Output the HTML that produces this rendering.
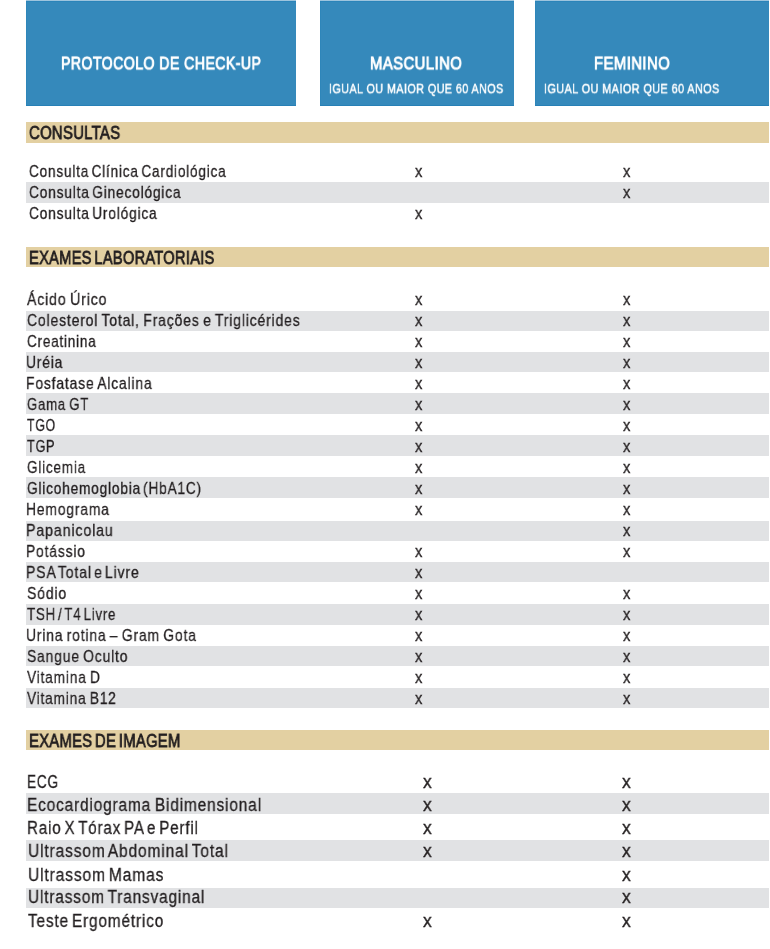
<!DOCTYPE html>
<html><head><meta charset="utf-8"><title>Protocolo de Check-up</title>
<style>
html,body{margin:0;padding:0;background:#fff}
#p{position:relative;width:770px;height:949px;overflow:hidden;background:#fff}
.r{position:absolute}
.bx{background:#3589bb;box-shadow:inset 0 1px 0 #9ec4dd,inset 0 2px 0 #2b84b9,inset 0 -1px 0 #2780b6,inset 1px 0 0 #2e86ba}
.t{position:absolute;white-space:nowrap;line-height:1;font-family:"Liberation Sans",Arial,sans-serif;color:#231f20;transform-origin:0 0;will-change:transform}
</style></head><body><div id="p">
<div class="r bx" style="left:26px;top:0;width:270px;height:106px"></div>
<div class="r bx" style="left:320px;top:0;width:194px;height:106px"></div>
<div class="r bx" style="left:535px;top:0;width:234px;height:106px"></div>
<div class="t" style="left:60.91px;top:54px;font-size:19px;color:#fff;transform:scale(0.7426,0.952);-webkit-text-stroke:1.0px #fff;letter-spacing:0.6px">PROTOCOLO DE CHECK-UP</div>
<div class="t" style="left:370.32px;top:54px;font-size:19px;color:#fff;transform:scale(0.7795,0.952);-webkit-text-stroke:1.0px #fff;letter-spacing:0.6px">MASCULINO</div>
<div class="t" style="left:329.45px;top:81px;font-size:15px;color:#fff;transform:scale(0.7176,0.940);-webkit-text-stroke:0.5px #fff;letter-spacing:0.6px">IGUAL OU MAIOR QUE 60 ANOS</div>
<div class="t" style="left:593.52px;top:54px;font-size:19px;color:#fff;transform:scale(0.7802,0.952);-webkit-text-stroke:1.0px #fff;letter-spacing:0.6px">FEMININO</div>
<div class="t" style="left:544.25px;top:81px;font-size:15px;color:#fff;transform:scale(0.7218,0.940);-webkit-text-stroke:0.5px #fff;letter-spacing:0.6px">IGUAL OU MAIOR QUE 60 ANOS</div>
<div class="r" style="left:26px;top:122px;width:743px;height:21px;background:#e3d0a2"></div>
<div class="t" style="left:28.61px;top:124px;font-size:18.5px;transform:scaleX(0.8077);-webkit-text-stroke:0.8px #231f20;letter-spacing:0.3px">CONSULTAS</div>
<div class="r" style="left:26px;top:247px;width:743px;height:20px;background:#e3d0a2"></div>
<div class="t" style="left:28.85px;top:249px;font-size:18.5px;transform:scaleX(0.7941);-webkit-text-stroke:0.8px #231f20;letter-spacing:0.3px;word-spacing:-2px">EXAMES LABORATORIAIS</div>
<div class="r" style="left:26px;top:730px;width:743px;height:20px;background:#e3d0a2"></div>
<div class="t" style="left:29.08px;top:732px;font-size:18.5px;transform:scaleX(0.8020);-webkit-text-stroke:0.8px #231f20;letter-spacing:0.3px;word-spacing:-2px">EXAMES DE IMAGEM</div>
<div class="r" style="left:26px;top:182px;width:743px;height:21px;background:#e1e2e4"></div>
<div class="t" style="left:29.32px;top:163px;font-size:17px;transform:scaleX(0.7998);-webkit-text-stroke:0.3px #231f20;letter-spacing:1.0px;word-spacing:-2.5px">Consulta Clínica Cardiológica</div>
<div class="t" style="left:414.85px;top:163px;font-size:17px;transform:scaleX(0.86);-webkit-text-stroke:0.35px #231f20">x</div>
<div class="t" style="left:623.35px;top:163px;font-size:17px;transform:scaleX(0.86);-webkit-text-stroke:0.35px #231f20">x</div>
<div class="t" style="left:29.20px;top:184px;font-size:17px;transform:scaleX(0.8076);-webkit-text-stroke:0.3px #231f20;letter-spacing:1.0px;word-spacing:-2.5px">Consulta Ginecológica</div>
<div class="t" style="left:623.35px;top:184px;font-size:17px;transform:scaleX(0.86);-webkit-text-stroke:0.35px #231f20">x</div>
<div class="t" style="left:29.19px;top:205px;font-size:17px;transform:scaleX(0.8070);-webkit-text-stroke:0.3px #231f20;letter-spacing:1.0px;word-spacing:-2.5px">Consulta Urológica</div>
<div class="t" style="left:414.85px;top:205px;font-size:17px;transform:scaleX(0.86);-webkit-text-stroke:0.35px #231f20">x</div>
<div class="r" style="left:26px;top:311px;width:743px;height:20px;background:#e1e2e4"></div>
<div class="r" style="left:26px;top:352px;width:743px;height:20px;background:#e1e2e4"></div>
<div class="r" style="left:26px;top:393px;width:743px;height:21px;background:#e1e2e4"></div>
<div class="r" style="left:26px;top:435px;width:743px;height:21px;background:#e1e2e4"></div>
<div class="r" style="left:26px;top:477px;width:743px;height:21px;background:#e1e2e4"></div>
<div class="r" style="left:26px;top:521px;width:743px;height:20px;background:#e1e2e4"></div>
<div class="r" style="left:26px;top:562px;width:743px;height:20px;background:#e1e2e4"></div>
<div class="r" style="left:26px;top:604px;width:743px;height:21px;background:#e1e2e4"></div>
<div class="r" style="left:26px;top:646px;width:743px;height:20px;background:#e1e2e4"></div>
<div class="r" style="left:26px;top:688px;width:743px;height:20px;background:#e1e2e4"></div>
<div class="t" style="left:27.10px;top:291px;font-size:17px;transform:scaleX(0.8327);-webkit-text-stroke:0.3px #231f20;letter-spacing:1.0px;word-spacing:-1.5px">Ácido Úrico</div>
<div class="t" style="left:414.85px;top:291px;font-size:17px;transform:scaleX(0.86);-webkit-text-stroke:0.35px #231f20">x</div>
<div class="t" style="left:623.35px;top:291px;font-size:17px;transform:scaleX(0.86);-webkit-text-stroke:0.35px #231f20">x</div>
<div class="t" style="left:26.60px;top:312px;font-size:17px;transform:scaleX(0.8232);-webkit-text-stroke:0.3px #231f20;letter-spacing:1.0px;word-spacing:-1.5px">Colesterol Total, Frações e Triglicérides</div>
<div class="t" style="left:414.85px;top:312px;font-size:17px;transform:scaleX(0.86);-webkit-text-stroke:0.35px #231f20">x</div>
<div class="t" style="left:623.35px;top:312px;font-size:17px;transform:scaleX(0.86);-webkit-text-stroke:0.35px #231f20">x</div>
<div class="t" style="left:26.71px;top:333px;font-size:17px;transform:scaleX(0.7950);-webkit-text-stroke:0.3px #231f20;letter-spacing:1.0px;word-spacing:-1.5px">Creatinina</div>
<div class="t" style="left:414.85px;top:333px;font-size:17px;transform:scaleX(0.86);-webkit-text-stroke:0.35px #231f20">x</div>
<div class="t" style="left:623.35px;top:333px;font-size:17px;transform:scaleX(0.86);-webkit-text-stroke:0.35px #231f20">x</div>
<div class="t" style="left:26.26px;top:354px;font-size:17px;transform:scaleX(0.8126);-webkit-text-stroke:0.3px #231f20;letter-spacing:1.0px;word-spacing:-1.5px">Uréia</div>
<div class="t" style="left:414.85px;top:354px;font-size:17px;transform:scaleX(0.86);-webkit-text-stroke:0.35px #231f20">x</div>
<div class="t" style="left:623.35px;top:354px;font-size:17px;transform:scaleX(0.86);-webkit-text-stroke:0.35px #231f20">x</div>
<div class="t" style="left:26.01px;top:375px;font-size:17px;transform:scaleX(0.8192);-webkit-text-stroke:0.3px #231f20;letter-spacing:1.0px;word-spacing:-1.5px">Fosfatase Alcalina</div>
<div class="t" style="left:414.85px;top:375px;font-size:17px;transform:scaleX(0.86);-webkit-text-stroke:0.35px #231f20">x</div>
<div class="t" style="left:623.35px;top:375px;font-size:17px;transform:scaleX(0.86);-webkit-text-stroke:0.35px #231f20">x</div>
<div class="t" style="left:26.71px;top:396px;font-size:17px;transform:scaleX(0.7753);-webkit-text-stroke:0.3px #231f20;letter-spacing:1.0px;word-spacing:-1.5px">Gama GT</div>
<div class="t" style="left:414.85px;top:396px;font-size:17px;transform:scaleX(0.86);-webkit-text-stroke:0.35px #231f20">x</div>
<div class="t" style="left:623.35px;top:396px;font-size:17px;transform:scaleX(0.86);-webkit-text-stroke:0.35px #231f20">x</div>
<div class="t" style="left:26.93px;top:417px;font-size:17px;transform:scaleX(0.7267);-webkit-text-stroke:0.3px #231f20;letter-spacing:1.0px;word-spacing:-1.5px">TGO</div>
<div class="t" style="left:414.85px;top:417px;font-size:17px;transform:scaleX(0.86);-webkit-text-stroke:0.35px #231f20">x</div>
<div class="t" style="left:623.35px;top:417px;font-size:17px;transform:scaleX(0.86);-webkit-text-stroke:0.35px #231f20">x</div>
<div class="t" style="left:26.89px;top:438px;font-size:17px;transform:scaleX(0.7453);-webkit-text-stroke:0.3px #231f20;letter-spacing:1.0px;word-spacing:-1.5px">TGP</div>
<div class="t" style="left:414.85px;top:438px;font-size:17px;transform:scaleX(0.86);-webkit-text-stroke:0.35px #231f20">x</div>
<div class="t" style="left:623.35px;top:438px;font-size:17px;transform:scaleX(0.86);-webkit-text-stroke:0.35px #231f20">x</div>
<div class="t" style="left:26.71px;top:459px;font-size:17px;transform:scaleX(0.7951);-webkit-text-stroke:0.3px #231f20;letter-spacing:1.0px;word-spacing:-1.5px">Glicemia</div>
<div class="t" style="left:414.85px;top:459px;font-size:17px;transform:scaleX(0.86);-webkit-text-stroke:0.35px #231f20">x</div>
<div class="t" style="left:623.35px;top:459px;font-size:17px;transform:scaleX(0.86);-webkit-text-stroke:0.35px #231f20">x</div>
<div class="t" style="left:26.64px;top:480px;font-size:17px;transform:scaleX(0.8044);-webkit-text-stroke:0.3px #231f20;letter-spacing:1.0px;word-spacing:-3px">Glicohemoglobia (HbA1C)</div>
<div class="t" style="left:414.85px;top:480px;font-size:17px;transform:scaleX(0.86);-webkit-text-stroke:0.35px #231f20">x</div>
<div class="t" style="left:623.35px;top:480px;font-size:17px;transform:scaleX(0.86);-webkit-text-stroke:0.35px #231f20">x</div>
<div class="t" style="left:25.99px;top:501px;font-size:17px;transform:scaleX(0.8167);-webkit-text-stroke:0.3px #231f20;letter-spacing:1.0px;word-spacing:-1.5px">Hemograma</div>
<div class="t" style="left:414.85px;top:501px;font-size:17px;transform:scaleX(0.86);-webkit-text-stroke:0.35px #231f20">x</div>
<div class="t" style="left:623.35px;top:501px;font-size:17px;transform:scaleX(0.86);-webkit-text-stroke:0.35px #231f20">x</div>
<div class="t" style="left:25.94px;top:522px;font-size:17px;transform:scaleX(0.8380);-webkit-text-stroke:0.3px #231f20;letter-spacing:1.0px;word-spacing:-1.5px">Papanicolau</div>
<div class="t" style="left:623.35px;top:522px;font-size:17px;transform:scaleX(0.86);-webkit-text-stroke:0.35px #231f20">x</div>
<div class="t" style="left:26.25px;top:543px;font-size:17px;transform:scaleX(0.8169);-webkit-text-stroke:0.3px #231f20;letter-spacing:1.0px;word-spacing:-1.5px">Potássio</div>
<div class="t" style="left:414.85px;top:543px;font-size:17px;transform:scaleX(0.86);-webkit-text-stroke:0.35px #231f20">x</div>
<div class="t" style="left:623.35px;top:543px;font-size:17px;transform:scaleX(0.86);-webkit-text-stroke:0.35px #231f20">x</div>
<div class="t" style="left:25.96px;top:564px;font-size:17px;transform:scaleX(0.8281);-webkit-text-stroke:0.3px #231f20;letter-spacing:1.0px;word-spacing:-3px">PSA Total e Livre</div>
<div class="t" style="left:414.85px;top:564px;font-size:17px;transform:scaleX(0.86);-webkit-text-stroke:0.35px #231f20">x</div>
<div class="t" style="left:27.28px;top:585px;font-size:17px;transform:scaleX(0.8265);-webkit-text-stroke:0.3px #231f20;letter-spacing:1.0px;word-spacing:-1.5px">Sódio</div>
<div class="t" style="left:414.85px;top:585px;font-size:17px;transform:scaleX(0.86);-webkit-text-stroke:0.35px #231f20">x</div>
<div class="t" style="left:623.35px;top:585px;font-size:17px;transform:scaleX(0.86);-webkit-text-stroke:0.35px #231f20">x</div>
<div class="t" style="left:26.90px;top:606px;font-size:17px;transform:scaleX(0.7804);-webkit-text-stroke:0.3px #231f20;letter-spacing:1.0px;word-spacing:-3px">TSH / T4 Livre</div>
<div class="t" style="left:414.85px;top:606px;font-size:17px;transform:scaleX(0.86);-webkit-text-stroke:0.35px #231f20">x</div>
<div class="t" style="left:623.35px;top:606px;font-size:17px;transform:scaleX(0.86);-webkit-text-stroke:0.35px #231f20">x</div>
<div class="t" style="left:26.04px;top:627px;font-size:17px;transform:scaleX(0.8174);-webkit-text-stroke:0.3px #231f20;letter-spacing:1.0px;word-spacing:-1.5px">Urina rotina – Gram Gota</div>
<div class="t" style="left:414.85px;top:627px;font-size:17px;transform:scaleX(0.86);-webkit-text-stroke:0.35px #231f20">x</div>
<div class="t" style="left:623.35px;top:627px;font-size:17px;transform:scaleX(0.86);-webkit-text-stroke:0.35px #231f20">x</div>
<div class="t" style="left:27.27px;top:648px;font-size:17px;transform:scaleX(0.8169);-webkit-text-stroke:0.3px #231f20;letter-spacing:1.0px;word-spacing:-1.5px">Sangue Oculto</div>
<div class="t" style="left:414.85px;top:648px;font-size:17px;transform:scaleX(0.86);-webkit-text-stroke:0.35px #231f20">x</div>
<div class="t" style="left:623.35px;top:648px;font-size:17px;transform:scaleX(0.86);-webkit-text-stroke:0.35px #231f20">x</div>
<div class="t" style="left:27.05px;top:669px;font-size:17px;transform:scaleX(0.8076);-webkit-text-stroke:0.3px #231f20;letter-spacing:1.0px;word-spacing:-1.5px">Vitamina D</div>
<div class="t" style="left:414.85px;top:669px;font-size:17px;transform:scaleX(0.86);-webkit-text-stroke:0.35px #231f20">x</div>
<div class="t" style="left:623.35px;top:669px;font-size:17px;transform:scaleX(0.86);-webkit-text-stroke:0.35px #231f20">x</div>
<div class="t" style="left:27.05px;top:690px;font-size:17px;transform:scaleX(0.8053);-webkit-text-stroke:0.3px #231f20;letter-spacing:1.0px;word-spacing:-1.5px">Vitamina B12</div>
<div class="t" style="left:414.85px;top:690px;font-size:17px;transform:scaleX(0.86);-webkit-text-stroke:0.35px #231f20">x</div>
<div class="t" style="left:623.35px;top:690px;font-size:17px;transform:scaleX(0.86);-webkit-text-stroke:0.35px #231f20">x</div>
<div class="r" style="left:26px;top:793px;width:743px;height:21px;background:#e1e2e4"></div>
<div class="r" style="left:26px;top:840px;width:743px;height:21px;background:#e1e2e4"></div>
<div class="r" style="left:26px;top:888px;width:743px;height:20px;background:#e1e2e4"></div>
<div class="t" style="left:27.33px;top:773px;font-size:18px;transform:scaleX(0.7582);-webkit-text-stroke:0.3px #231f20;letter-spacing:1.0px;word-spacing:-1.5px">ECG</div>
<div class="t" style="left:422.94px;top:773px;font-size:18px;transform:scaleX(0.97);-webkit-text-stroke:0.35px #231f20">x</div>
<div class="t" style="left:622.34px;top:773px;font-size:18px;transform:scaleX(0.97);-webkit-text-stroke:0.35px #231f20">x</div>
<div class="t" style="left:27.43px;top:796px;font-size:18px;transform:scaleX(0.8555);-webkit-text-stroke:0.3px #231f20;letter-spacing:1.0px;word-spacing:-1.5px">Ecocardiograma Bidimensional</div>
<div class="t" style="left:422.94px;top:796px;font-size:18px;transform:scaleX(0.97);-webkit-text-stroke:0.35px #231f20">x</div>
<div class="t" style="left:622.34px;top:796px;font-size:18px;transform:scaleX(0.97);-webkit-text-stroke:0.35px #231f20">x</div>
<div class="t" style="left:27.42px;top:819px;font-size:18px;transform:scaleX(0.8421);-webkit-text-stroke:0.3px #231f20;letter-spacing:1.0px;word-spacing:-2.5px">Raio X Tórax PA e Perfil</div>
<div class="t" style="left:422.94px;top:819px;font-size:18px;transform:scaleX(0.97);-webkit-text-stroke:0.35px #231f20">x</div>
<div class="t" style="left:622.34px;top:819px;font-size:18px;transform:scaleX(0.97);-webkit-text-stroke:0.35px #231f20">x</div>
<div class="t" style="left:27.53px;top:842px;font-size:18px;transform:scaleX(0.8628);-webkit-text-stroke:0.3px #231f20;letter-spacing:1.0px;word-spacing:-2.5px">Ultrassom Abdominal Total</div>
<div class="t" style="left:422.94px;top:842px;font-size:18px;transform:scaleX(0.97);-webkit-text-stroke:0.35px #231f20">x</div>
<div class="t" style="left:622.34px;top:842px;font-size:18px;transform:scaleX(0.97);-webkit-text-stroke:0.35px #231f20">x</div>
<div class="t" style="left:27.53px;top:866px;font-size:18px;transform:scaleX(0.8652);-webkit-text-stroke:0.3px #231f20;letter-spacing:1.0px;word-spacing:-2.5px">Ultrassom Mamas</div>
<div class="t" style="left:622.34px;top:866px;font-size:18px;transform:scaleX(0.97);-webkit-text-stroke:0.35px #231f20">x</div>
<div class="t" style="left:27.55px;top:888px;font-size:18px;transform:scaleX(0.8540);-webkit-text-stroke:0.3px #231f20;letter-spacing:1.0px;word-spacing:-2.5px">Ultrassom Transvaginal</div>
<div class="t" style="left:622.34px;top:888px;font-size:18px;transform:scaleX(0.97);-webkit-text-stroke:0.35px #231f20">x</div>
<div class="t" style="left:28.43px;top:912px;font-size:18px;transform:scaleX(0.8535);-webkit-text-stroke:0.3px #231f20;letter-spacing:1.0px;word-spacing:-2.5px">Teste Ergométrico</div>
<div class="t" style="left:422.94px;top:912px;font-size:18px;transform:scaleX(0.97);-webkit-text-stroke:0.35px #231f20">x</div>
<div class="t" style="left:622.34px;top:912px;font-size:18px;transform:scaleX(0.97);-webkit-text-stroke:0.35px #231f20">x</div>
</div></body></html>
